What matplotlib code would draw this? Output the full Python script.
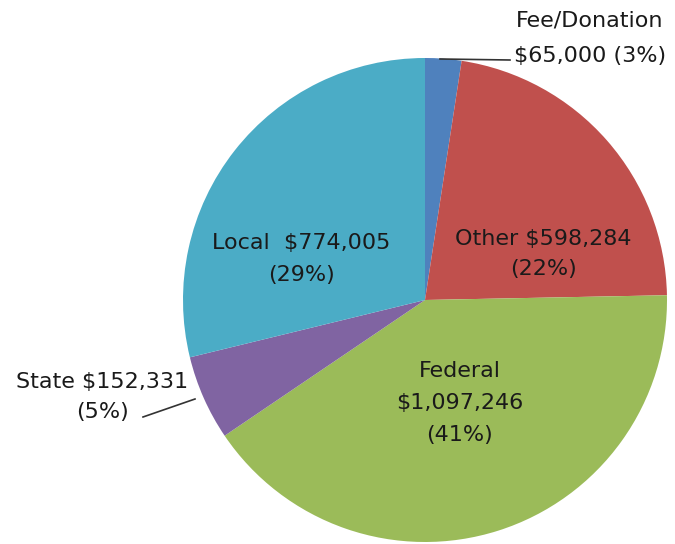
import matplotlib
matplotlib.use("Agg")
import matplotlib.pyplot as plt

categories = ["Fee/Donation", "Other", "Federal", "State", "Local"]
values = [65000, 598284, 1097246, 152331, 774005]
percents = [3, 22, 41, 5, 29]
colors = ["#4F81BD", "#C0504D", "#9BBB59", "#8064A2", "#4BACC6"]

W, H = 675, 544
fig = plt.figure(figsize=(W / 100, H / 100), dpi=100)
ax = fig.add_axes([0, 0, 1, 1])

cx, cy, r = 425, H - 300, 242
ax.pie(values, colors=colors, startangle=90, counterclock=False,
       center=(cx, cy), radius=r, wedgeprops=dict(linewidth=0),
       frame=True)
ax.set_xlim(0, W)
ax.set_ylim(0, H)
ax.set_aspect("equal")
ax.axis("off")

def money(v):
    return "${:,}".format(v)

texts = [
    f"{categories[0]}\n{money(values[0])} ({percents[0]}%)",
    f"{categories[1]} {money(values[1])}\n({percents[1]}%)",
    f"{categories[2]}\n{money(values[2])}\n({percents[2]}%)",
    f"{categories[3]} {money(values[3])}\n({percents[3]}%)",
    f"{categories[4]}  {money(values[4])}\n({percents[4]}%)",
]
positions = [(590, 38), (543, 254), (460, 403), (102, 397), (301, 259)]
spacings = [1.95, 1.68, 1.75, 1.68, 1.72]
fam = ["DejaVu Sans"]
for t, (x, y), ls in zip(texts, positions, spacings):
    ax.text(x, H - y, t, ha="center", va="center", fontsize=16,
            family=fam, color="#1a1a1a", linespacing=ls)

ax.plot([440, 510], [H - 59, H - 60], color="#333333", lw=1.2)
ax.plot([143, 195], [H - 417, H - 399], color="#333333", lw=1.2)

fig.savefig("out.png", dpi=100)
